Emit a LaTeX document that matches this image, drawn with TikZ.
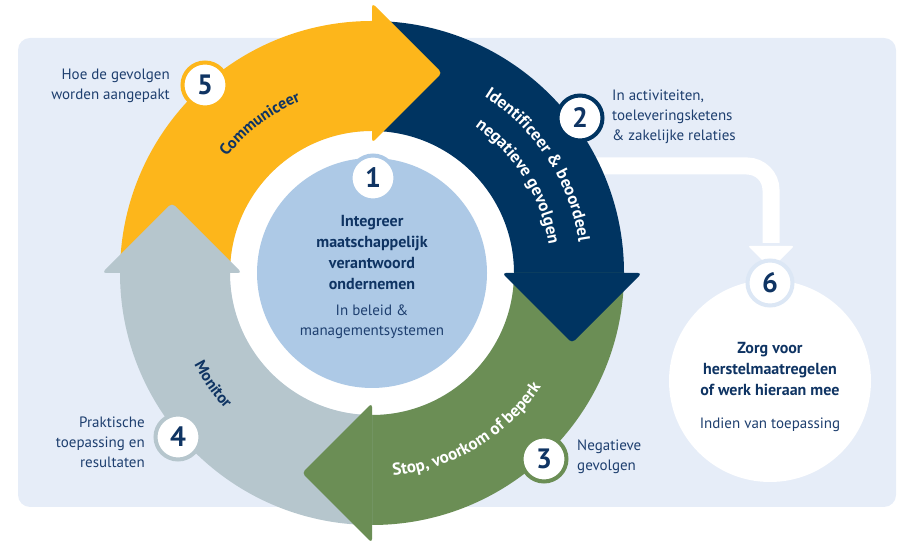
\documentclass[tikz,border=0pt]{standalone}
\usepackage{fontspec}
\setmainfont{PT Sans}
\usetikzlibrary{calc,decorations.text}
\definecolor{bgc}{HTML}{E6EDF8}
\definecolor{yc}{HTML}{FDB61B}
\definecolor{nc}{HTML}{003461}
\definecolor{gc}{HTML}{6B8E55}
\definecolor{grc}{HTML}{B6C6CD}
\definecolor{lbc}{HTML}{ADC9E6}
\definecolor{rc6}{HTML}{DCE7F5}
\definecolor{txc}{HTML}{1E3F6F}
\definecolor{numnavy}{HTML}{0F3463}
\tikzset{
  lbl/.style={inner sep=0pt, text=txc, font={\fontsize{15}{20}\selectfont}},
  boldc/.style={inner sep=0pt, text=numnavy, align=center, font={\fontsize{16}{21}\selectfont\bfseries}},
  numc/.style={circle, fill=white, line width=4pt, minimum size=45pt, inner sep=0pt, text=numnavy, font={\fontsize{28}{28}\selectfont\bfseries}},
  headc/.style={rounded corners=4pt},
  arctext/.style={decorate, decoration={text along path, text align=center, text color=#1}},
}
\begin{document}
\begin{tikzpicture}[x=1pt,y=1pt]
\useasboundingbox (0,0) rectangle (899,545);
% background panel
\fill[bgc, rounded corners=12pt] (18,38) rectangle (896,507);
% connector to step 6
\coordinate (cstart) at (590,379);
\coordinate (cend) at (771,302);
\draw[white, line width=17pt, rounded corners=24pt] (cstart) -| (cend);
\fill[white, rounded corners=2pt] (748,299) -- (794,299) -- (771,276) -- cycle;
% ring
\begin{scope}[shift={(372,272)}]
  \fill[white] (0,0) circle[radius=142];
  \fill[lbc] (0,0) circle[radius=115];
  % bodies
  \fill[yc] (180:142) -- (180:252) arc[start angle=180, end angle=90, radius=252] -- (90:142) arc[start angle=90, end angle=180, radius=142] -- cycle;
  \fill[nc] (90:142) -- (90:252) arc[start angle=90, end angle=0, radius=252] -- (0:142) arc[start angle=0, end angle=90, radius=142] -- cycle;
  \fill[gc] (0:142) -- (0:252) arc[start angle=0, end angle=-90, radius=252] -- (-90:142) arc[start angle=-90, end angle=0, radius=142] -- cycle;
  \fill[grc] (-90:142) -- (-90:252) arc[start angle=-90, end angle=-180, radius=252] -- (-180:142) arc[start angle=-180, end angle=-90, radius=142] -- cycle;
  % heads
  \fill[yc, headc] (90:130) -- (90:270) -- ($(90:200)+(0:70)$) -- cycle;
  \fill[nc, headc] (0:130) -- (0:270) -- ($(0:200)+(-90:70)$) -- cycle;
  \fill[gc, headc] (-90:130) -- (-90:270) -- ($(-90:200)+(180:70)$) -- cycle;
  \fill[grc, headc] (180:130) -- (180:270) -- ($(180:200)+(90:70)$) -- cycle;
  % arc texts
  \path[arctext=numnavy, decoration={text={|\fontsize{16}{16}\selectfont\bfseries|Communiceer}}]
    (167:186) arc[start angle=167, end angle=87, radius=186];
  \path[arctext=white, decoration={text={|\fontsize{17}{17}\selectfont\bfseries|Identificeer {\&} beoordeel}}]
    (73:209) arc[start angle=73, end angle=-7, radius=209];
  \path[arctext=white, decoration={text={|\fontsize{17}{17}\selectfont\bfseries|negatieve gevolgen}}]
    (72:179) arc[start angle=72, end angle=-8, radius=179];
  \path[arctext=white, decoration={text={|\fontsize{17}{17}\selectfont\bfseries|Stop, voorkom of beperk}}]
    (-109:204) arc[start angle=-109, end angle=-9, radius=204];
  \path[arctext=numnavy, decoration={text={|\fontsize{16}{16}\selectfont\bfseries|Monitor}}]
    (175:200) arc[start angle=175, end angle=255, radius=200];
\end{scope}
% step 6 circle
\node[circle, fill=white, minimum size=202pt, inner sep=0pt] (z6) at (770,164) {};
% number circles
\node[numc, draw=lbc] (n1) at (373,367) {1};
\node[numc, draw=nc] (n2) at (580,427) {2};
\node[numc, draw=gc] (n3) at (544,86) {3};
\node[numc, draw=grc] (n4) at (178,108) {4};
\node[numc, draw=yc] (n5) at (205,460) {5};
\node[numc, draw=rc6] (n6) at (770,262) {6};
% labels
\node[lbl, anchor=east, align=right] (l5) at (170,459) {Hoe de gevolgen\\worden aangepakt};
\node[lbl, anchor=west, align=left] (l2) at (612,428) {In activiteiten,\\toeleveringsketens\\\& zakelijke relaties};
\node[lbl, anchor=west, align=left] (l3) at (577,88) {Negatieve\\gevolgen};
\node[lbl, anchor=east, align=right] (l4) at (145,103) {Praktische\\toepassing en\\resultaten};
\node[boldc] (c1) at (372,292) {Integreer\\maatschappelijk\\verantwoord\\ondernemen};
\node[lbl, align=center] (c1s) at (372,223) {In beleid \&\\managementsystemen};
\node[boldc] (c6) at (770,176) {Zorg voor\\herstelmaatregelen\\of werk hieraan mee};
\node[lbl] (c6s) at (770,120) {Indien van toepassing};
\end{tikzpicture}
\end{document}
